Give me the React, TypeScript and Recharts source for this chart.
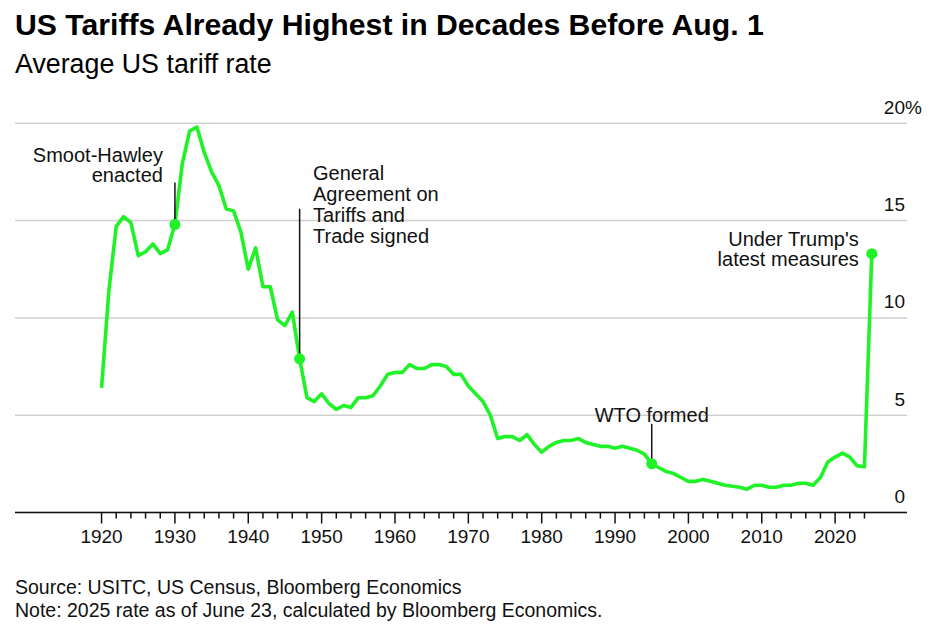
import React from "react";
import { LineChart, Line, XAxis, YAxis, CartesianGrid } from "recharts";

const years: number[] = [
  1920, 1921, 1922, 1923, 1924, 1925, 1926, 1927, 1928, 1929,
  1930, 1931, 1932, 1933, 1934, 1935, 1936, 1937, 1938, 1939,
  1940, 1941, 1942, 1943, 1944, 1945, 1946, 1947, 1948, 1949,
  1950, 1951, 1952, 1953, 1954, 1955, 1956, 1957, 1958, 1959,
  1960, 1961, 1962, 1963, 1964, 1965, 1966, 1967, 1968, 1969,
  1970, 1971, 1972, 1973, 1974, 1975, 1976, 1977, 1978, 1979,
  1980, 1981, 1982, 1983, 1984, 1985, 1986, 1987, 1988, 1989,
  1990, 1991, 1992, 1993, 1994, 1995, 1996, 1997, 1998, 1999,
  2000, 2001, 2002, 2003, 2004, 2005, 2006, 2007, 2008, 2009,
  2010, 2011, 2012, 2013, 2014, 2015, 2016, 2017, 2018, 2019,
  2020, 2021, 2022, 2023, 2024, 2025,
];

const tariffRate: number[] = [
  6.4, 11.4, 14.7, 15.2, 14.9, 13.2, 13.4, 13.8, 13.3, 13.5,
  14.8, 17.9, 19.6, 19.8, 18.5, 17.5, 16.8, 15.6, 15.5, 14.4,
  12.5, 13.6, 11.6, 11.6, 9.9, 9.6, 10.3, 7.9, 5.9, 5.7,
  6.1, 5.6, 5.3, 5.5, 5.4, 5.9, 5.9, 6.0, 6.5, 7.1,
  7.2, 7.2, 7.6, 7.4, 7.4, 7.6, 7.6, 7.5, 7.1, 7.1,
  6.5, 6.1, 5.7, 5.0, 3.8, 3.9, 3.9, 3.7, 4.0, 3.5,
  3.1, 3.4, 3.6, 3.7, 3.7, 3.8, 3.6, 3.5, 3.4, 3.4,
  3.3, 3.4, 3.3, 3.2, 3.0, 2.5, 2.3, 2.1, 2.0, 1.8,
  1.6, 1.6, 1.7, 1.6, 1.5, 1.4, 1.35, 1.3, 1.2, 1.4,
  1.4, 1.3, 1.3, 1.4, 1.4, 1.5, 1.5, 1.4, 1.8, 2.6,
  2.85, 3.05, 2.85, 2.4, 2.35, 13.3,
];

const xTicks: number[] = [
  1920, 1922, 1924, 1926, 1928, 1930, 1932, 1934, 1936, 1938,
  1940, 1942, 1944, 1946, 1948, 1950, 1952, 1954, 1956, 1958,
  1960, 1962, 1964, 1966, 1968, 1970, 1972, 1974, 1976, 1978,
  1980, 1982, 1984, 1986, 1988, 1990, 1992, 1994, 1996, 1998,
  2000, 2002, 2004, 2006, 2008, 2010, 2012, 2014, 2016, 2018,
  2020, 2022, 2024,
];
const yTicks: number[] = [0, 5, 10, 15, 20];

type Note = { year: number; lines: string[]; anchor: "start" | "end" | "middle" };
const notes: Note[] = [
  { year: 1930, lines: ["Smoot-Hawley", "enacted"], anchor: "end" },
  { year: 1947, lines: ["General", "Agreement on", "Tariffs and", "Trade signed"], anchor: "start" },
  { year: 1995, lines: ["WTO formed"], anchor: "middle" },
  { year: 2025, lines: ["Under Trump's", "latest measures"], anchor: "end" },
];

const data = years.map((y, i) => ({ year: y, rate: tariffRate[i] }));

const FONT = '"Liberation Sans", Arial, Helvetica, sans-serif';
const GREEN = "#1ff226";
const INK = "#111";

const XTick = (props: any) => {
  const { x, y, payload } = props;
  const major = payload.value % 10 === 0;
  return (
    <g>
      <line x1={x} y1={y} x2={x} y2={y + (major ? 11 : 6)} stroke={INK} strokeWidth={1.5} />
      {major && (
        <text x={x} y={y + 30} textAnchor="middle" fontSize={19} fontFamily={FONT} fill={INK}>
          {payload.value}
        </text>
      )}
    </g>
  );
};

const YTick = (props: any) => {
  const { x, y, payload } = props;
  const top = payload.value === 20;
  return (
    <g>
      <text x={x - 2} y={y - 9.5} textAnchor="end" fontSize={19} fontFamily={FONT} fill={INK}>
        {payload.value}
      </text>
      {top && (
        <text x={x - 2} y={y - 9.5} textAnchor="start" fontSize={19} fontFamily={FONT} fill={INK}>
          %
        </text>
      )}
    </g>
  );
};

const AnnotDot = (props: any) => {
  const { cx, cy, payload } = props;
  const note = notes.find((n) => n.year === payload.year);
  if (!note) return <g key={payload.year} />;
  const fs = 20;
  const lh = 20.8;
  let leader: number | null = null;
  let tx = cx;
  let baselines: number[] = [];
  if (note.year === 1930) {
    leader = -42;
    tx = cx - 12;
    baselines = [-62.7, -42.1];
  } else if (note.year === 1947) {
    leader = -150;
    tx = cx + 13.4;
    baselines = note.lines.map((_, i) => -178.5 + i * lh);
  } else if (note.year === 1995) {
    leader = -40;
    tx = cx;
    baselines = [-42];
  } else {
    tx = cx - 13;
    baselines = [-8, 12];
  }
  return (
    <g key={payload.year}>
      {leader !== null && (
        <line x1={cx} y1={cy} x2={cx} y2={cy + leader} stroke={INK} strokeWidth={1.5} />
      )}
      <circle cx={cx} cy={cy} r={5.5} fill={GREEN} stroke="none" />
      {note.lines.map((t, i) => (
        <text key={i} x={tx} y={cy + baselines[i]} textAnchor={note.anchor} fontSize={fs} fontFamily={FONT} fill={INK}>
          {t}
        </text>
      ))}
    </g>
  );
};

export default function App() {
  return (
    <div style={{ position: "absolute", left: 0, top: 0, width: 930, height: 628, background: "#fff", overflow: "hidden" }}>
      <svg width={930} height={628} style={{ position: "absolute", left: 0, top: 0 }}>
        <text x={15} y={35} fontSize={30.2} fontWeight="bold" fontFamily={FONT} fill="#000">
          US Tariffs Already Highest in Decades Before Aug. 1
        </text>
        <text x={15} y={72.7} fontSize={26.8} fontFamily={FONT} fill="#000">
          Average US tariff rate
        </text>
        <text x={15} y={594} fontSize={19.5} fontFamily={FONT} fill={INK}>
          Source: USITC, US Census, Bloomberg Economics
        </text>
        <text x={15} y={616.5} fontSize={19.5} fontFamily={FONT} fill={INK}>
          Note: 2025 rate as of June 23, calculated by Bloomberg Economics.
        </text>
      </svg>
      <div style={{ position: "absolute", left: 0, top: 0 }}>
        <LineChart
          width={930}
          height={628}
          data={data}
          margin={{ top: 123.3, right: 0, left: 15, bottom: 85.5 }}
        >
          <CartesianGrid vertical={false} stroke="#d0d0d0" strokeWidth={1.5} />
          <XAxis
            dataKey="year"
            type="number"
            domain={[1908.2, 2029.8]}
            allowDataOverflow
            ticks={xTicks}
            interval={0}
            tickSize={0}
            tickMargin={0}
            height={30}
            axisLine={{ stroke: INK, strokeWidth: 1.5 }}
            tickLine={false}
            tick={<XTick />}
          />
          <YAxis
            orientation="right"
            type="number"
            domain={[0, 20]}
            allowDataOverflow
            ticks={yTicks}
            interval={0}
            tickSize={0}
            tickMargin={0}
            width={23}
            axisLine={false}
            tickLine={false}
            tick={<YTick />}
          />
          <Line
            type="linear"
            dataKey="rate"
            stroke={GREEN}
            strokeWidth={3.6}
            strokeLinejoin="round"
            dot={<AnnotDot />}
            activeDot={false}
            isAnimationActive={false}
          />
        </LineChart>
      </div>
    </div>
  );
}
